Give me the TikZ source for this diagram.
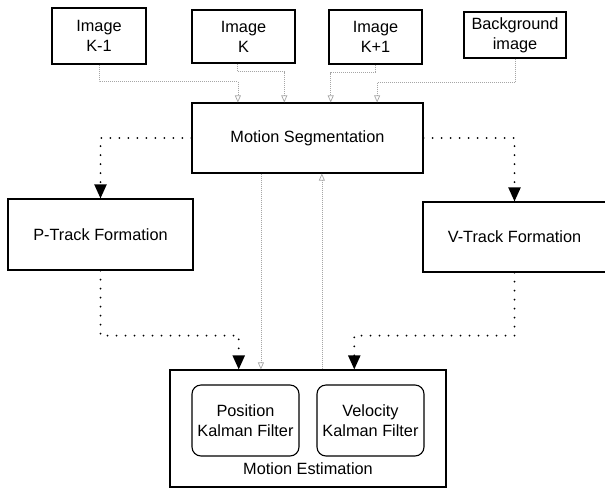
\documentclass[tikz,border=0pt]{standalone}
\usepackage{fontspec}
\setmainfont{Liberation Sans}
\usetikzlibrary{
  calc, % For coordinate calculations
  arrows.meta % For arrow tips
}

\begin{document}
\begin{tikzpicture}[
      x=1pt, y=-1pt, % Pixel-Koordinaten, y nach unten
      font=\fontsize{16.3}{20}\selectfont,
      box/.style={draw, line width=1.1pt, align=center, inner sep=0pt}, % Style for blocks
      kbox/.style={box, rounded corners=9pt}, % Style for filter blocks
      feed/.style={gray!70, line width=0.7pt, dash pattern=on 1pt off 1pt,
        -{Triangle[open, length=7pt, width=6pt]}}, % Style for image data
      flow/.style={line width=2pt, line cap=round, dash pattern=on 0pt off 9pt,
        -{Triangle[length=14pt, width=12pt]}}, % Style for track data
    ]

    \useasboundingbox (0,0) rectangle (605,488);
    \clip (0,0) rectangle (605,488);

    % Bilder
    \node[box, minimum width=94pt, minimum height=56pt] (imgA) at (99,36) {Image\\K-1};
    \node[box, minimum width=103pt, minimum height=53pt] (imgB) at (243.5,36.5) {Image\\K};
    \node[box, minimum width=93pt, minimum height=54pt] (imgC) at (375.5,37) {Image\\K+1};
    \node[box, minimum width=102pt, minimum height=46pt] (bg) at (515,35) {Background\\image};

    % Bloecke
    \node[box, minimum width=231pt, minimum height=70pt] (seg) at (307.5,138) {Motion Segmentation};
    \node[box, minimum width=185pt, minimum height=71pt] (ptrack) at (100.5,234.5) {P-Track Formation};
    \node[box, minimum width=183pt, minimum height=70pt] (vtrack) at (514.5,237) {V-Track Formation};

    \node[box, minimum width=276pt, minimum height=117pt] (est) at (308,428.5) {};
    \node[kbox, minimum width=107pt, minimum height=71pt] (pkf) at (245.5,420.5) {Position\\Kalman Filter};
    \node[kbox, minimum width=107pt, minimum height=71pt] (vkf) at (370.5,420.5) {Velocity\\Kalman Filter};
    \node (estlbl) at ($(est.south)+(0,-19)$) {Motion Estimation};

    % Koordinaten von Punkte
    \foreach \i/\f in {1/0.2, 2/0.4, 3/0.6, 4/0.8}
    \coordinate (s\i) at ($(seg.north west)!\f!(seg.north east)$);
    \coordinate (e1) at ($(est.north west)!0.25!(est.north east)$);
    \coordinate (e2) at ($(est.north west)!0.667!(est.north east)$);
    \coordinate (e3) at ($(est.north west)!0.33!(est.north east)$);
    \coordinate (e4) at ($(est.north west)!0.55!(est.north east)$);

    % Verbindungen
    \draw[feed] (imgA.south) -- ++(0,17) -| (s1);
    \draw[feed] ([xshift=-6pt]imgB.south) -- ++(0,8) -| (s2);
    \draw[feed] (imgC.south) -- ++(0,8) -| (s3);
    \draw[feed] (bg.south) -- ++(0,24) -| (s4);

    \draw[flow] (seg.west) -| (ptrack.north);
    \draw[flow] (seg.east) -| (vtrack.north);
    \draw[flow] (ptrack.south) -- ++(0,65) -| (e1);
    \draw[flow] (vtrack.south) -- ++(0,63) -| (e2);

    \draw[feed] (e3 |- seg.south) -- (e3);
    \draw[feed] (e4) -- (e4 |- seg.south);

  \end{tikzpicture}
\end{document}
